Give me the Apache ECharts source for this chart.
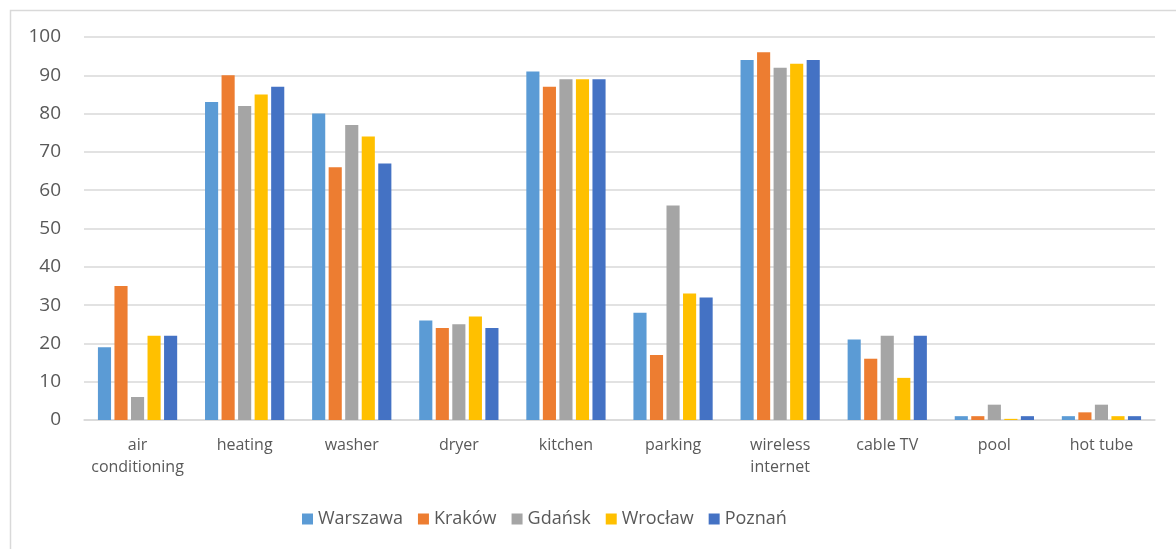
<!DOCTYPE html>
<html>
<head>
<meta charset="utf-8">
<script src="https://cdn.jsdelivr.net/npm/echarts@6/dist/echarts.min.js"></script>
<style>
html,body{margin:0;padding:0;background:#fff;}
#chart{width:1176px;height:549px;}
</style>
</head>
<body>
<div id="chart"></div>
<script>
const categories = ['air\nconditioning','heating','washer','dryer','kitchen','parking','wireless\ninternet','cable TV','pool','hot tube'];
const seriesNames = ['Warszawa','Kraków','Gdańsk','Wrocław','Poznań'];
const warszawa = [19, 83, 80, 26, 91, 28, 94, 21, 1, 1];
const krakow   = [35, 90, 66, 24, 87, 17, 96, 16, 1, 2];
const gdansk   = [6, 82, 77, 25, 89, 56, 92, 22, 4, 4];
const wroclaw  = [22, 85, 74, 27, 89, 33, 93, 11, 0.3, 1];
const poznan   = [22, 87, 67, 24, 89, 32, 94, 22, 1, 1];
const colors = ['#5B9BD5','#ED7D31','#A5A5A5','#FFC000','#4472C4'];
const yTicks = {min: 0, max: 100, interval: 10};

const dataSets = [warszawa, krakow, gdansk, wroclaw, poznan];
const font = '"Open Sans", "Liberation Sans", sans-serif';
const chart = echarts.init(document.getElementById('chart'));
chart.setOption({
  animation: false,
  color: colors,
  textStyle: {fontFamily: font},
  graphic: [{
    type: 'rect', left: 8, top: 8, silent: true,
    shape: {width: 1180, height: 560},
    style: {fill: 'none', stroke: '#d9d9d9', lineWidth: 1.5}
  }],
  grid: {left: 84, right: 21, top: 37, bottom: 129, containLabel: false},
  legend: {
    data: seriesNames,
    left: 297, top: 505,
    itemWidth: 11, itemHeight: 11, itemGap: 15,
    icon: 'rect',
    textStyle: {fontSize: 18, color: '#595959', fontFamily: font}
  },
  xAxis: {
    type: 'category',
    data: categories,
    axisLine: {lineStyle: {color: '#d9d9d9', width: 1.5}},
    axisTick: {show: false},
    axisLabel: {fontSize: 16, color: '#595959', lineHeight: 22, margin: 14, interval: 0, fontFamily: font}
  },
  yAxis: {
    type: 'value',
    min: yTicks.min, max: yTicks.max, interval: yTicks.interval,
    axisLine: {show: false},
    axisTick: {show: false},
    splitLine: {lineStyle: {color: '#d9d9d9', width: 1.5}},
    axisLabel: {fontSize: 19, color: '#595959', margin: 23, fontFamily: font}
  },
  series: seriesNames.map((n, i) => ({
    name: n,
    type: 'bar',
    data: dataSets[i],
    barGap: '26%',
    barCategoryGap: '26%',
    itemStyle: {color: colors[i]}
  }))
});
</script>
</body>
</html>
